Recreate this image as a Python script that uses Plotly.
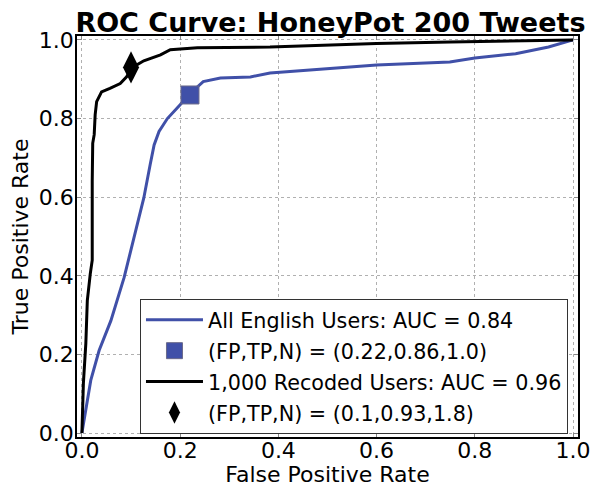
import plotly.graph_objects as go

# Blue curve: All English Users
blue_fpr = [0.0, 0.018, 0.035, 0.059, 0.086, 0.116, 0.126, 0.139, 0.147, 0.157, 0.174, 0.20,
            0.217, 0.247, 0.282, 0.343, 0.383, 0.60, 0.749, 0.80, 0.883, 0.95, 1.0]
blue_tpr = [0.0, 0.134, 0.21, 0.286, 0.396, 0.547, 0.598, 0.683, 0.733, 0.767, 0.80, 0.835,
            0.86, 0.894, 0.903, 0.906, 0.916, 0.936, 0.944, 0.954, 0.965, 0.982, 1.0]

# Black curve: 1,000 Recoded Users
black_fpr = [0.0, 0.003, 0.008, 0.011, 0.017, 0.021, 0.021, 0.022, 0.025, 0.027, 0.03, 0.04,
             0.057, 0.078, 0.091, 0.103, 0.126, 0.16, 0.18, 0.235, 0.383, 0.60, 0.75, 1.0]
black_tpr = [0.0, 0.127, 0.228, 0.337, 0.405, 0.44, 0.64, 0.737, 0.759, 0.81, 0.843, 0.868,
             0.877, 0.889, 0.906, 0.93, 0.947, 0.962, 0.975, 0.98, 0.982, 0.991, 0.995, 1.0]

blue_point = (0.22, 0.86)
black_point = (0.1, 0.93)

names = ["All English Users: AUC = 0.84", "(FP,TP,N) = (0.22,0.86,1.0)",
         "1,000 Recoded Users: AUC = 0.96", "(FP,TP,N) = (0.1,0.93,1.8)"]

tick_vals = [0.0, 0.2, 0.4, 0.6, 0.8, 1.0]
tick_text = ["0.0", "0.2", "0.4", "0.6", "0.8", "1.0"]

BLUE = "#4050a8"
fig = go.Figure()
fig.add_trace(go.Scatter(x=blue_fpr, y=blue_tpr, mode="lines", name=names[0],
                         line=dict(color=BLUE, width=3), legendgroup="a"))
fig.add_trace(go.Scatter(x=[blue_point[0]], y=[blue_point[1]], mode="markers", name=names[1],
                         marker=dict(symbol="square", size=18, color=BLUE,
                                     line=dict(color="#6a6a8a", width=1)), legendgroup="b"))
fig.add_trace(go.Scatter(x=black_fpr, y=black_tpr, mode="lines", name=names[2],
                         line=dict(color="black", width=3), legendgroup="c"))
fig.add_trace(go.Scatter(x=[black_point[0]], y=[black_point[1]], mode="markers", name=names[3],
                         marker=dict(symbol="diamond-tall", size=23, color="black"),
                         legendgroup="d"))

axis_common = dict(
    tickvals=tick_vals, ticktext=tick_text, ticks="inside", ticklen=4, tickcolor="#888888",
    showline=True, linecolor="black", linewidth=1.5, mirror="ticks",
    showgrid=True, gridcolor="#b0b0b0", griddash="dot", gridwidth=1,
    zeroline=False, tickfont=dict(size=22, color="black"),
    range=[-0.01, 1.01], automargin=False,
)

# page body has an 8px default margin; compensate so the plot frame lands where the reference has it
fig.update_layout(
    width=590, height=479,
    margin=dict(l=69, r=20, t=28, b=50),
    paper_bgcolor="white", plot_bgcolor="white",
    font=dict(family="DejaVu Sans", color="black"),
    title=dict(text="<b>ROC Curve: HoneyPot 200 Tweets</b>", x=0.5465, xanchor="center",
               y=0.969, yanchor="middle", font=dict(size=27, color="black")),
    xaxis=dict(title=dict(text="False Positive Rate", font=dict(size=22), standoff=2),
               ticklabelstandoff=-7, **axis_common),
    yaxis=dict(title=dict(text="True Positive Rate", font=dict(size=22), standoff=6),
               ticklabelstandoff=-3, **axis_common),
    legend=dict(x=0.98, y=0.008, xanchor="right", yanchor="bottom",
                bordercolor="#333333", borderwidth=1, bgcolor="white",
                font=dict(size=20.7, color="black"), tracegroupgap=1,
                itemwidth=57),
    showlegend=True,
)

fig.write_html("out.html")
